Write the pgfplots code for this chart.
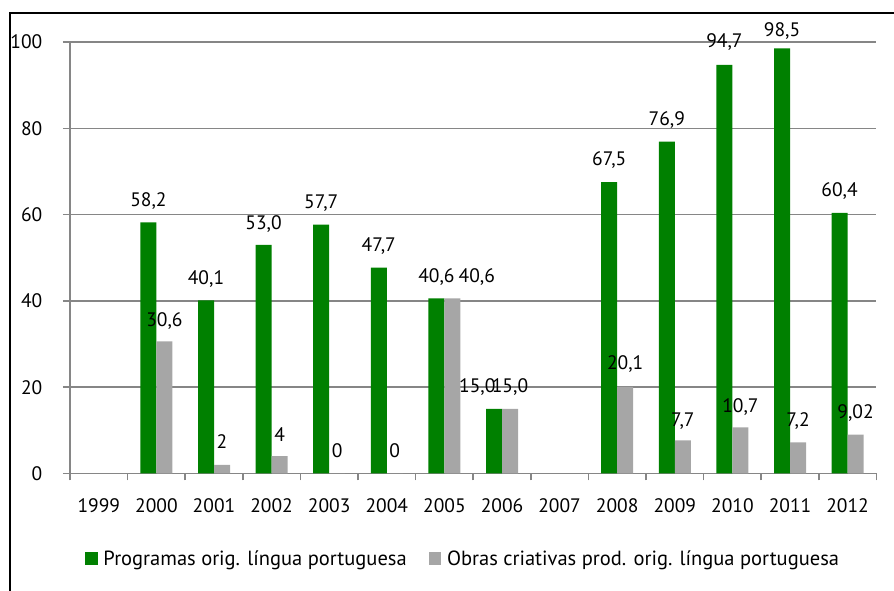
\documentclass[border=0pt]{standalone}
\usepackage{fontspec}
\setmainfont{PT Sans}
\usepackage{pgfplots}
\usepackage{pgfplotstable}
\pgfplotsset{compat=1.18}
\definecolor{bargreen}{RGB}{0,128,0}
\definecolor{bargray}{RGB}{166,166,166}
\definecolor{gridgray}{RGB}{134,134,134}
\pgfplotstableread{
x y label dx db
1 58.2 58,2 0 16
2 40.1 40,1 0 16
3 53.0 53,0 0 15.5
4 57.7 57,7 0 16
5 47.7 47,7 0 16.3
6 40.6 40,6 0 16
7 15.0 15,0 -16.7 16
9 67.5 67,5 0 16.5
10 76.9 76,9 0 16.2
11 94.7 94,7 0 17.3
12 98.5 98,5 0 11.8
13 60.4 60,4 0 16
}\greendata
\pgfplotstableread{
x y label dx db
1 30.6 30,6 0 15.3
2 2 2 0 16.3
3 4 4 0 15
4 0 0 0 16.3
5 0 0 0 16.3
6 40.6 40,6 24.4 16
7 15.0 15,0 0 16
9 20.1 20,1 0 17.5
10 7.7 7,7 0 14
11 10.7 10,7 0 14.5
12 7.2 7,2 0 16
13 9.02 9,02 0 16.3
}\graydata
\begin{document}
\begin{tikzpicture}
\useasboundingbox (0,0) rectangle (894pt,591pt);
\begin{axis}[
  at={(70pt,117.5pt)}, anchor=south west,
  width=806.4pt, height=431.5pt, scale only axis,
  xmin=-0.5, xmax=13.5, ymin=0, ymax=100,
  ybar=0pt, bar width=16pt,
  axis x line*=bottom, axis y line*=left,
  axis line style={gridgray, line width=1.8pt},
  tick align=outside,
  ytick={0,20,40,60,80,100},
  ymajorgrids, grid style={gridgray, line width=1.5pt},
  major tick length=7pt, minor tick length=7pt,
  xtick={0,...,13},
  xticklabels={1999,2000,2001,2002,2003,2004,2005,2006,2007,2008,2009,2010,2011,2012},
  minor xtick={-0.5,0.5,...,13.5},
  major x tick style={draw=none},
  minor x tick style={gridgray, line width=1.5pt},
  y tick style={gridgray, line width=1.5pt},
  tick label style={font=\fontsize{19.5}{22}\selectfont, text=black},
  /pgf/number format/assume math mode=true,
  yticklabel style={anchor=east, inner sep=0pt, xshift=-20.5pt},
  xticklabel style={anchor=north, inner sep=0pt, yshift=-17.5pt},
  legend style={at={(axis description cs:0.0186,-0.197)}, anchor=west, draw=none, fill=none,
    inner sep=0pt, legend columns=2, font=\fontsize{20.5}{23}\selectfont,
    nodes={inner sep=0pt, anchor=west},
    /tikz/every odd column/.append style={column sep=6pt},
    /tikz/every even column/.append style={column sep=22pt}},
  legend image code/.code={\fill[#1] (0pt,-6.2pt) rectangle (12.3pt,6.2pt);},
  clip=false,
]
\addplot[fill=bargreen, draw=none,
  point meta=explicit symbolic, nodes near coords,
  visualization depends on={\thisrow{dx} \as \dx},
  visualization depends on={\thisrow{db} \as \db},
  every node near coord/.append style={anchor=base, inner sep=0pt, xshift=\dx pt, yshift=\db pt, font=\fontsize{19.5}{22}\selectfont, text=black}]
  table[x=x, y=y, meta=label] {\greendata};
\addlegendentry{Programas orig. língua portuguesa}
\addplot[fill=bargray, draw=none,
  point meta=explicit symbolic, nodes near coords,
  visualization depends on={\thisrow{dx} \as \dx},
  visualization depends on={\thisrow{db} \as \db},
  every node near coord/.append style={anchor=base, inner sep=0pt, xshift=\dx pt, yshift=\db pt, font=\fontsize{19.5}{22}\selectfont, text=black}]
  table[x=x, y=y, meta=label] {\graydata};
\addlegendentry{Obras criativas prod. orig. língua portuguesa}
\end{axis}
\draw[black, line width=2pt] (10pt,-2pt) -- (10pt,578pt) -- (896pt,578pt);
\end{tikzpicture}
\end{document}
